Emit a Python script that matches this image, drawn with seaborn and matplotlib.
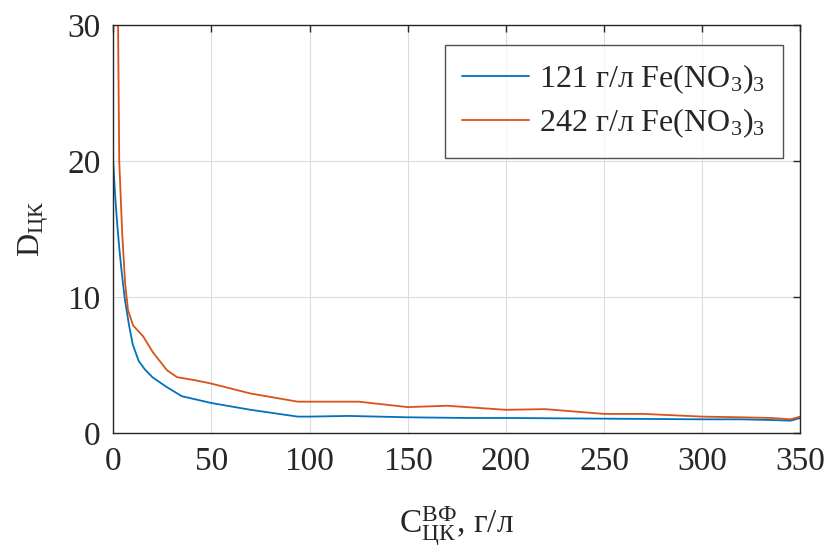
import matplotlib
matplotlib.use("Agg")
import matplotlib.pyplot as plt
import seaborn as sns
import pandas as pd

# Concentration of binder (g/l) and resulting D_ЦК for two iron nitrate levels
x_121 = [0, 1, 2, 3, 4, 5, 6, 8, 10, 13, 16, 20, 27, 35, 50, 70, 94, 100, 120,
         150, 180, 200, 250, 300, 320, 335, 345, 350]
d_121 = [20, 17.5, 15.5, 13.8, 12.3, 11, 9.8, 8, 6.5, 5.3, 4.7, 4.1, 3.4, 2.7, 2.2,
         1.7, 1.2, 1.2, 1.25, 1.15, 1.1, 1.1, 1.05, 1.0, 1.0, 0.95, 0.9, 1.1]

x_242 = [2.0, 2.5, 3.1, 4.6, 6.1, 7.6, 10.2, 15.3, 20.4, 27.5, 32.6, 40.8, 49.4, 70,
         94, 100, 125, 150, 170, 200, 220, 250, 270, 300, 320, 335, 345, 350]
d_242 = [40, 30, 20, 14.7, 11, 9, 7.9, 7.1, 5.9, 4.6, 4.1, 3.9, 3.65, 2.9, 2.3, 2.3,
         2.3, 1.9, 2.0, 1.7, 1.75, 1.4, 1.4, 1.2, 1.15, 1.1, 1.0, 1.2]

labels = ["121 г/л Fe(NO$_3$)$_3$", "242 г/л Fe(NO$_3$)$_3$"]
colors = ["#0072BD", "#D95319"]

df = pd.concat([
    pd.DataFrame({"C": x_121, "D": d_121, "series": labels[0]}),
    pd.DataFrame({"C": x_242, "D": d_242, "series": labels[1]}),
])

sns.set_theme(style="whitegrid")
plt.rcParams["font.family"] = ["Liberation Serif", "DejaVu Serif"]
plt.rcParams["mathtext.fontset"] = "custom"
plt.rcParams["mathtext.rm"] = "Liberation Serif"
plt.rcParams["mathtext.it"] = "Liberation Serif:italic"

fig = plt.figure(figsize=(8.32, 5.48), dpi=100)
ax = fig.add_axes([0.136, 0.210, 0.826, 0.744])

sns.lineplot(data=df, x="C", y="D", hue="series", palette=colors, ax=ax,
             linewidth=1.3, sort=False, estimator=None)

ax.set_xlim(0, 350)
ax.set_ylim(0, 30)
ax.set_xticks(range(0, 351, 50))
ax.set_yticks([0, 10, 20, 30])

ax.grid(True, color="#dcdcdc", linewidth=0.8)
ax.set_facecolor("white")
for s in ax.spines.values():
    s.set_visible(True)
    s.set_color("#262626")
    s.set_linewidth(1.0)

ax.tick_params(axis="both", which="both", direction="in", length=5, width=1,
               color="#262626", top=True, right=True, labelsize=24,
               labelcolor="#262626")
ax.tick_params(axis="x", pad=10)
ax.tick_params(axis="y", pad=9)

ax.set_xlabel(r"$\mathrm{C}_{\mathrm{ЦК}}^{\mathrm{ВФ}}$, г/л", fontsize=24,
              color="#262626", labelpad=20)
ax.set_ylabel(r"$\mathrm{D}_{\mathrm{ЦК}}$", fontsize=23, color="#262626", labelpad=12)

leg = ax.legend(loc="upper right", bbox_to_anchor=(0.974, 0.951), fontsize=23,
                frameon=True, fancybox=False, edgecolor="#262626",
                handlelength=2.1, handletextpad=0.3, borderpad=0.55,
                labelspacing=0.32, borderaxespad=0)
leg.get_frame().set_linewidth(1.0)
for t in leg.get_texts():
    t.set_color("#262626")

fig.savefig("out.png", dpi=100)
